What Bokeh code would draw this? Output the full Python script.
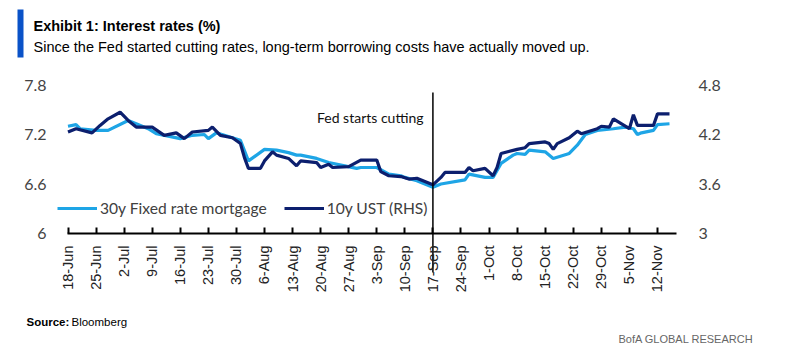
import math
import pandas as pd
from bokeh.plotting import figure
from bokeh.models import (Range1d, LinearAxis, FixedTicker, DatetimeTickFormatter,
                          Label, Legend, LegendItem, BoxAnnotation, ColumnDataSource)
from bokeh.embed import file_html
from bokeh.resources import INLINE

# ---------------- data ----------------
mort_dates = ["2024-06-18", "2024-06-20", "2024-06-21", "2024-06-25", "2024-06-28",
              "2024-07-03", "2024-07-05", "2024-07-08", "2024-07-10", "2024-07-16",
              "2024-07-19", "2024-07-22", "2024-07-23", "2024-07-25", "2024-07-29",
              "2024-07-31", "2024-08-02", "2024-08-06", "2024-08-09", "2024-08-12",
              "2024-08-14", "2024-08-15", "2024-08-19", "2024-08-22", "2024-08-26",
              "2024-08-29", "2024-08-30", "2024-09-03", "2024-09-06", "2024-09-09",
              "2024-09-10", "2024-09-13", "2024-09-17", "2024-09-19", "2024-09-25",
              "2024-09-26", "2024-09-30", "2024-10-02", "2024-10-04", "2024-10-07",
              "2024-10-08", "2024-10-10", "2024-10-11", "2024-10-15", "2024-10-17",
              "2024-10-21", "2024-10-23", "2024-10-25", "2024-10-28", "2024-11-01",
              "2024-11-04", "2024-11-06", "2024-11-07", "2024-11-08", "2024-11-11",
              "2024-11-12", "2024-11-15"]
mort_vals = [7.30, 7.32, 7.27, 7.25, 7.25,
             7.37, 7.33, 7.27, 7.21, 7.15,
             7.19, 7.20, 7.15, 7.22, 7.16,
             7.13, 6.88, 7.02, 7.01, 6.98,
             6.95, 6.95, 6.91, 6.86, 6.82,
             6.79, 6.80, 6.80, 6.72, 6.70,
             6.68, 6.64, 6.56, 6.60, 6.65,
             6.72, 6.68, 6.68, 6.85, 6.95,
             6.97, 6.96, 7.01, 6.99, 6.91,
             6.97, 7.07, 7.20, 7.25, 7.27,
             7.29, 7.27, 7.20, 7.22, 7.25,
             7.32, 7.33]

ust_dates = ["2024-06-18", "2024-06-20", "2024-06-24", "2024-06-26", "2024-06-28",
             "2024-07-01", "2024-07-03", "2024-07-05", "2024-07-09", "2024-07-12",
             "2024-07-15", "2024-07-17", "2024-07-19", "2024-07-23", "2024-07-24",
             "2024-07-26", "2024-07-29", "2024-07-31", "2024-08-01", "2024-08-02",
             "2024-08-05", "2024-08-06", "2024-08-08", "2024-08-09", "2024-08-12",
             "2024-08-14", "2024-08-15", "2024-08-19", "2024-08-20", "2024-08-22",
             "2024-08-23", "2024-08-27", "2024-08-30", "2024-09-03", "2024-09-04",
             "2024-09-06", "2024-09-09", "2024-09-11", "2024-09-13", "2024-09-17",
             "2024-09-19", "2024-09-20", "2024-09-25", "2024-09-26", "2024-09-27",
             "2024-09-30", "2024-10-02", "2024-10-03", "2024-10-04", "2024-10-08",
             "2024-10-10", "2024-10-11", "2024-10-15", "2024-10-16", "2024-10-17",
             "2024-10-18", "2024-10-21", "2024-10-23", "2024-10-24", "2024-10-28",
             "2024-10-29", "2024-10-31", "2024-11-01", "2024-11-05", "2024-11-06",
             "2024-11-07", "2024-11-11", "2024-11-12", "2024-11-15"]
ust_vals = [4.23, 4.27, 4.22, 4.31, 4.39,
            4.47, 4.37, 4.29, 4.29, 4.19,
            4.22, 4.15, 4.23, 4.25, 4.29,
            4.19, 4.16, 4.09, 3.92, 3.79,
            3.79, 3.88, 3.99, 3.95, 3.91,
            3.82, 3.88, 3.86, 3.80, 3.84,
            3.80, 3.81, 3.89, 3.89, 3.75,
            3.70, 3.69, 3.66, 3.67, 3.59,
            3.68, 3.74, 3.74, 3.80, 3.76,
            3.79, 3.70, 3.80, 3.97, 4.02,
            4.04, 4.09, 4.11, 4.09, 4.02,
            4.09, 4.16, 4.24, 4.21, 4.27,
            4.30, 4.29, 4.39, 4.27, 4.44,
            4.31, 4.31, 4.45, 4.45]

x_tick_dates = ["2024-06-18", "2024-06-25", "2024-07-02", "2024-07-09", "2024-07-16",
                "2024-07-23", "2024-07-30", "2024-08-06", "2024-08-13", "2024-08-20",
                "2024-08-27", "2024-09-03", "2024-09-10", "2024-09-17", "2024-09-24",
                "2024-10-01", "2024-10-08", "2024-10-15", "2024-10-22", "2024-10-29",
                "2024-11-05", "2024-11-12"]
left_ticks = [6, 6.6, 7.2, 7.8]
right_ticks = [3, 3.6, 4.2, 4.8]
fed_date = "2024-09-17"

# ---------------- layout / styling ----------------
LIGHT = "#1ea5e6"
DARK = "#0c1f6e"
W, H = 800, 352
DAY = 86400000.0
PX_PER_DAY = 4.01
PX_PER_UNIT = 82.5
X0_PX, Y6_PX = 67.5, 233.0          # pixel of 18-Jun and of value 6

base = pd.Timestamp("2024-06-18").value / 1e6

def xd(px):       # pixel -> datetime ms
    return base + (px - X0_PX) / PX_PER_DAY * DAY

def yv(py):       # pixel -> left-axis value
    return 6 + (Y6_PX - py) / PX_PER_UNIT

def ms(d):
    return pd.Timestamp(d).value / 1e6

p = figure(width=W, height=H, x_axis_type="datetime",
           x_range=Range1d(xd(0), xd(W)), y_range=Range1d(yv(H), yv(0)),
           output_backend="svg", toolbar_location=None, title=None,
           min_border_left=0, min_border_right=0, min_border_top=0,
           min_border_bottom=0)
p.extra_y_ranges = {"ust": Range1d(yv(H) - 3, yv(0) - 3)}
p.outline_line_color = None
p.grid.visible = False
p.background_fill_color = "white"
p.border_fill_color = "white"

mort_src = ColumnDataSource(dict(x=pd.to_datetime(mort_dates), y=mort_vals))
ust_src = ColumnDataSource(dict(x=pd.to_datetime(ust_dates), y=ust_vals))

r1 = p.line("x", "y", source=mort_src, line_color=LIGHT, line_width=3.2)
r2 = p.line("x", "y", source=ust_src, line_color=DARK, line_width=3.2,
            y_range_name="ust")

# Fed line
p.segment(x0=[pd.Timestamp(fed_date)], y0=[yv(92)], x1=[pd.Timestamp(fed_date)],
          y1=[yv(272)], line_color="black", line_width=1.5)

# x axis (pinned at value 6 inside the frame)
xa = p.xaxis[0]
xa.fixed_location = 6
xa.bounds = (xd(67), xd(676))
xa.ticker = FixedTicker(ticks=[ms(d) for d in x_tick_dates])
xa.formatter = DatetimeTickFormatter(days="%-d-%b", months="%-d-%b", hours="%-d-%b")
xa.major_label_orientation = math.pi / 2
xa.major_label_text_font = "Liberation Sans"
xa.major_label_text_font_size = "14.5px"
xa.major_label_text_color = "#222222"
xa.major_label_standoff = 12
xa.major_tick_in = 6
xa.major_tick_out = 0
xa.minor_tick_line_color = None
xa.axis_line_width = 2
xa.major_tick_line_width = 2
xa.axis_line_color = "black"
xa.major_tick_line_color = "black"

# left axis
ya = p.yaxis[0]
ya.fixed_location = xd(67)
ya.ticker = FixedTicker(ticks=left_ticks)
ya.major_label_overrides = {t: str(t) for t in left_ticks}
ya.axis_line_color = None
ya.major_tick_line_color = None
ya.minor_tick_line_color = None
ya.major_label_standoff = 15
ya.major_label_text_font = "Lato"
ya.major_label_text_font_size = "16px"
ya.major_label_text_color = "#444444"

# right axis
ra = LinearAxis(y_range_name="ust", ticker=FixedTicker(ticks=right_ticks))
ra.fixed_location = xd(676)
ra.major_label_overrides = {t: str(t) for t in right_ticks}
ra.axis_line_color = None
ra.major_tick_line_color = None
ra.minor_tick_line_color = None
ra.major_label_standoff = 16
ra.major_label_text_font = "Lato"
ra.major_label_text_font_size = "16px"
ra.major_label_text_color = "#444444"
p.add_layout(ra, "right")

# legend
legend = Legend(items=[LegendItem(label="30y Fixed rate mortgage", renderers=[r1]),
                       LegendItem(label="10y UST (RHS)", renderers=[r2])],
                orientation="horizontal", location=(57, H - 218),
                glyph_width=40, glyph_height=20, label_height=20, label_standoff=3,
                spacing=17, padding=0, margin=0, border_line_alpha=0,
                background_fill_alpha=0, label_text_font="Lato",
                label_text_font_size="15.6px", label_text_color="#404040")
p.add_layout(legend, "center")

# annotations (screen units: x from left, y from bottom of canvas)
p.add_layout(Label(x=423, y=H - 117, x_units="screen", y_units="screen",
                   text="Fed starts cutting", text_align="right", text_baseline="middle",
                   text_font="Lato", text_font_size="14px", text_color="#111111"))
p.add_layout(BoxAnnotation(left=17, right=23, top=H - 9, bottom=H - 57,
                           left_units="screen", right_units="screen",
                           top_units="screen", bottom_units="screen",
                           fill_color="#0a52c8", fill_alpha=1, line_alpha=0))
p.add_layout(Label(x=33, y=H - 25, x_units="screen", y_units="screen",
                   text="Exhibit 1: Interest rates (%)", text_baseline="middle",
                   text_font="Liberation Sans", text_font_style="bold",
                   text_font_size="14.5px", text_color="#000000"))
p.add_layout(Label(x=33, y=H - 46, x_units="screen", y_units="screen",
                   text="Since the Fed started cutting rates, long-term borrowing costs have actually moved up.",
                   text_baseline="middle", text_font="Liberation Sans",
                   text_font_size="14.5px", text_color="#000000"))
p.add_layout(Label(x=26, y=H - 321, x_units="screen", y_units="screen",
                   text="Source:", text_baseline="middle", text_font="Liberation Sans",
                   text_font_style="bold", text_font_size="11.5px", text_color="#000000"))
p.add_layout(Label(x=71, y=H - 321, x_units="screen", y_units="screen",
                   text="Bloomberg", text_baseline="middle", text_font="Liberation Sans",
                   text_font_size="11.5px", text_color="#000000"))
p.add_layout(Label(x=618, y=H - 338, x_units="screen", y_units="screen",
                   text="BofA GLOBAL RESEARCH", text_baseline="middle",
                   text_font="Liberation Sans", text_font_size="11px",
                   text_color="#666666"))

open("out.html", "w").write(file_html(p, INLINE))
